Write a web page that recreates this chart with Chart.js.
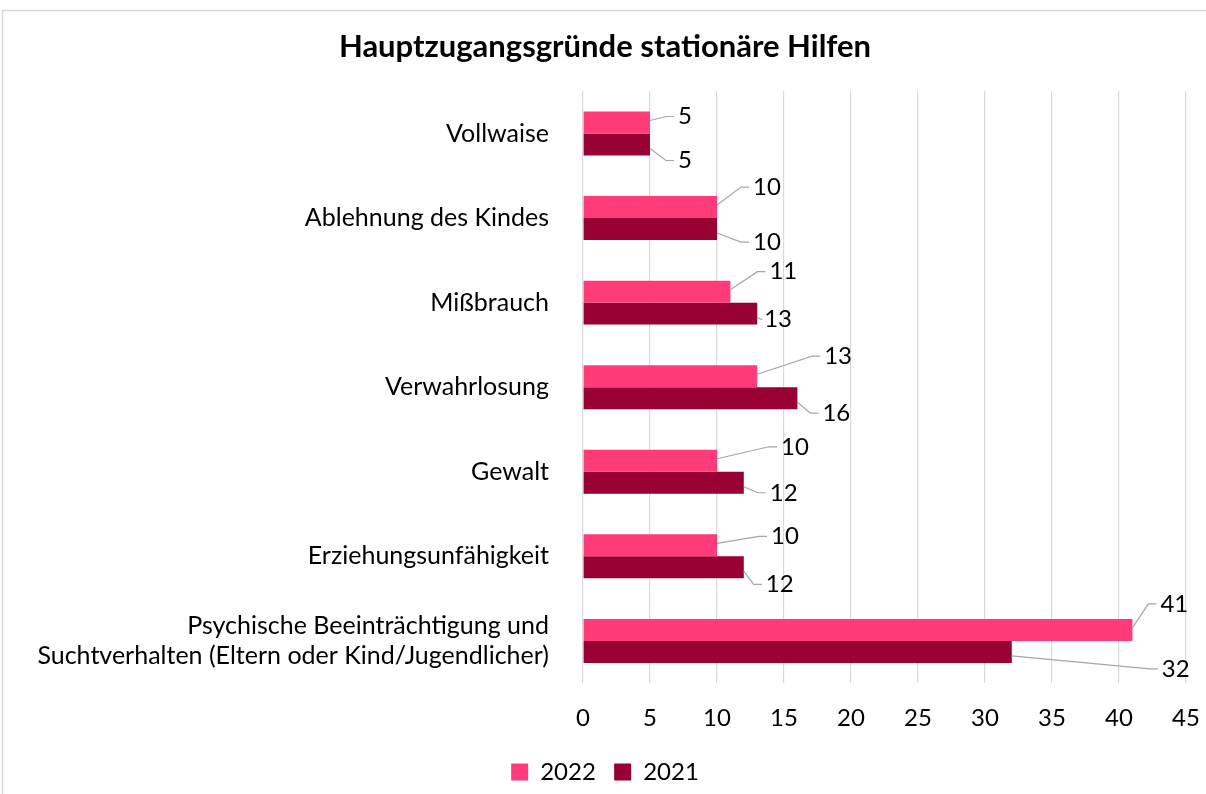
<!DOCTYPE html>
<html>
<head>
  <meta charset="utf-8">
  <script src="https://cdn.jsdelivr.net/npm/chart.js"></script>
  <style>
    body { margin: 0; background: #fff; }
    #wrap { width: 1206px; height: 794px; }
  </style>
</head>
<body>
  <div id="wrap"><canvas id="myChart"></canvas></div>
  <script>
  var categories = [
    'Vollwaise',
    'Ablehnung des Kindes',
    'Mißbrauch',
    'Verwahrlosung',
    'Gewalt',
    'Erziehungsunfähigkeit',
    ['Psychische Beeinträchtigung und', 'Suchtverhalten (Eltern oder Kind/Jugendlicher)']
  ];
  var values2022 = [5, 10, 11, 13, 10, 10, 41];
  var values2021 = [5, 10, 13, 16, 12, 12, 32];
  var xTicks = [0, 5, 10, 15, 20, 25, 30, 35, 40, 45];

  // where Excel put each data label, relative to the bar end (dx, dy)
  var offsets2022 = [[28, -6], [36, -20], [39, -20], [67, -20], [64, -14], [54, -9], [28, -26]];
  var offsets2021 = [[28, 16], [36, 13], [7, 6], [25, 15], [26, 10], [22, 17], [150, 17]];

  var fontName = "Lato, 'Open Sans', sans-serif";

  var frame = {
    id: 'frame',
    beforeDraw: function(chart) {
      var c = chart.ctx;
      c.save();
      c.strokeStyle = '#d9d9d9';
      c.lineWidth = 1.5;
      c.strokeRect(2.5, 10.5, 1220, 800);
      c.restore();
    }
  };

  var leaderLabels = {
    id: 'leaderLabels',
    afterDatasetsDraw: function(chart) {
      var c = chart.ctx;
      var offs = [offsets2022, offsets2021];
      c.save();
      c.font = '24px ' + fontName;
      c.textBaseline = 'middle';
      c.textAlign = 'left';
      chart.data.datasets.forEach(function(ds, di) {
        var meta = chart.getDatasetMeta(di);
        meta.data.forEach(function(bar, i) {
          var o = offs[di][i];
          var lx = bar.x + o[0];
          var ly = bar.y + o[1];
          var sy = bar.y + (di === 0 ? -2 : 4);
          c.strokeStyle = '#a6a6a6';
          c.lineWidth = 1.2;
          c.beginPath();
          c.moveTo(bar.x, sy);
          if (Math.abs(o[1]) > 8 || o[0] > 15) {
            c.lineTo(lx - 12, ly);
            c.lineTo(lx - 4, ly);
          } else {
            c.lineTo(lx - 2, ly);
          }
          c.stroke();
          c.fillStyle = '#000';
          c.fillText(String(ds.data[i]), lx, ly);
        });
      });
      c.restore();
    }
  };

  var ctx = document.getElementById('myChart').getContext('2d');
  var myChart = new Chart(ctx, {
    type: 'bar',
    data: {
      labels: categories,
      datasets: [{
        label: '2022',
        data: values2022,
        backgroundColor: '#ff3b7a',
        categoryPercentage: 0.52,
        barPercentage: 1
      }, {
        label: '2021',
        data: values2021,
        backgroundColor: '#990033',
        categoryPercentage: 0.52,
        barPercentage: 1
      }]
    },
    options: {
      indexAxis: 'y',
      responsive: true,
      maintainAspectRatio: false,
      animation: false,
      layout: { padding: { left: 10, right: 6, top: 20, bottom: 0 } },
      scales: {
        x: {
          min: 0,
          max: 45,
          afterBuildTicks: function(axis) {
            axis.ticks = xTicks.map(function(v) { return { value: v }; });
          },
          afterFit: function(scale) { scale.paddingRight = 20; },
          grid: { color: '#d9d9d9', lineWidth: 1.2, drawTicks: false },
          border: { display: false },
          ticks: {
            color: '#000',
            padding: 21,
            font: { family: fontName, size: 24 }
          }
        },
        y: {
          grid: { display: false },
          border: { display: false },
          afterFit: function(scale) { scale.width = 573; },
          ticks: {
            color: '#000',
            padding: 26,
            font: { family: fontName, size: 25, lineHeight: 1.2 }
          }
        }
      },
      plugins: {
        title: {
          display: true,
          text: 'Hauptzugangsgründe stationäre Hilfen',
          color: '#000',
          font: { family: fontName, size: 31, weight: 'bold' },
          padding: { top: 8, bottom: 26 }
        },
        legend: {
          position: 'bottom',
          labels: {
            color: '#000',
            boxWidth: 17,
            boxHeight: 17,
            padding: 6,
            font: { family: fontName, size: 24 },
            // small padding keeps the plot tall; trailing spaces give the item gap
            generateLabels: function(chart) {
              var items = Chart.defaults.plugins.legend.labels.generateLabels(chart);
              items[0].text = items[0].text + '  ';
              return items;
            }
          }
        },
        tooltip: { enabled: false }
      }
    },
    plugins: [frame, leaderLabels]
  });
  </script>
</body>
</html>
